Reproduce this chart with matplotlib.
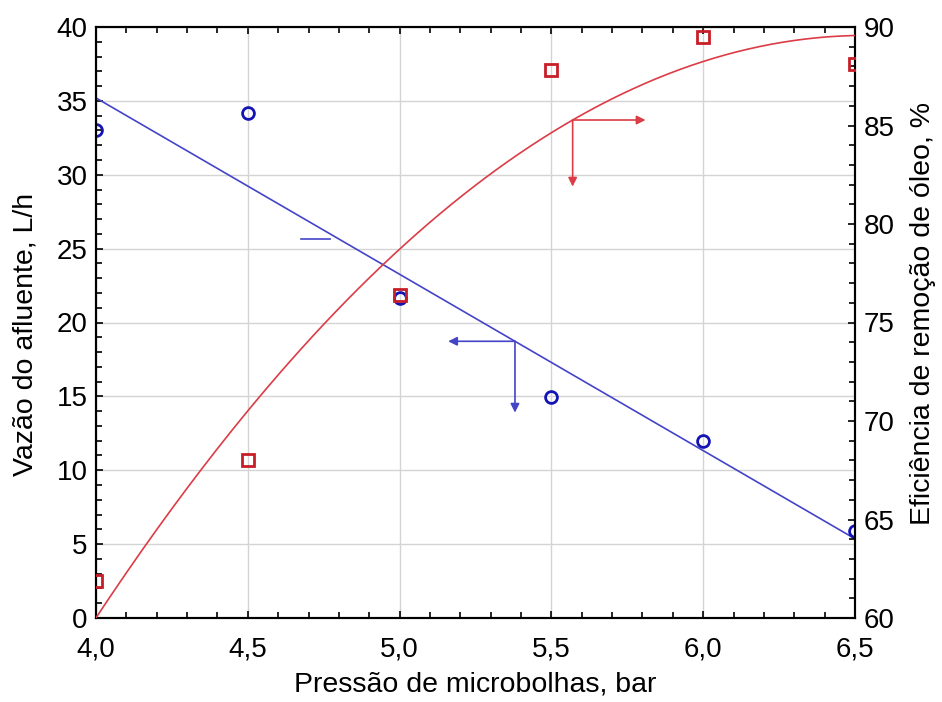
import numpy as np
import matplotlib
matplotlib.use("Agg")
import matplotlib.pyplot as plt
from matplotlib.ticker import MultipleLocator, FixedLocator, FixedFormatter

plt.rcParams['font.family'] = ['Liberation Sans', 'DejaVu Sans']

# ---- data ----
pressure = [4.0, 4.5, 5.0, 5.5, 6.0, 6.5]
flow = [33.0, 34.2, 21.65, 14.95, 11.98, 5.9]          # left axis, L/h
efficiency = [61.9, 68.0, 76.4, 87.8, 89.5, 88.1]      # right axis, %

x_ticks = [4.0, 4.5, 5.0, 5.5, 6.0, 6.5]
x_tick_labels = ["4,0", "4,5", "5,0", "5,5", "6,0", "6,5"]
left_ticks = [0, 5, 10, 15, 20, 25, 30, 35, 40]
right_ticks = [60, 65, 70, 75, 80, 85, 90]

# fitted trend curves (linear for flow, quadratic for efficiency)
blue_fit = np.polyfit(pressure, flow, 1)
red_fit = np.polyfit(pressure, efficiency, 2)
xs = np.linspace(min(pressure), max(pressure), 200)

# arrow anchor positions (x on curve, tip positions)
blue_arrow_x, blue_left_tip, blue_down_tip = 5.38, 5.16, 13.9
red_arrow_x, red_right_tip, red_down_tip = 5.57, 5.81, 81.9

blue_line_c = '#4444c8'
blue_mark_c = '#1414b4'
red_line_c = '#dc3c46'
red_mark_c = '#c81e28'

fig = plt.figure(figsize=(9.42, 7.02), dpi=100)
ax = fig.add_axes([96/942, 84/702, 759/942, 591/702])
ax2 = ax.twinx()

# grid
ax.grid(True, color='#d4d4d4', lw=1.0, zorder=0)
ax.set_axisbelow(True)

ax.plot(xs, np.polyval(blue_fit, xs), color=blue_line_c, lw=1.2, zorder=3)
ax.plot(pressure, flow, 'o', mfc='none', mec=blue_mark_c, mew=2.0, ms=8.5, zorder=4)

ax2.plot(xs, np.polyval(red_fit, xs), color=red_line_c, lw=1.2, zorder=3)
ax2.plot(pressure, efficiency, 's', mfc='none', mec=red_mark_c, mew=2.0, ms=9, zorder=4)

# arrows
by = np.polyval(blue_fit, blue_arrow_x)
ap_b = dict(arrowstyle='-|>', color=blue_line_c, lw=1.2, mutation_scale=13, shrinkA=0, shrinkB=0)
ax.annotate('', xy=(blue_left_tip, by), xytext=(blue_arrow_x, by), arrowprops=ap_b)
ax.annotate('', xy=(blue_arrow_x, blue_down_tip), xytext=(blue_arrow_x, by), arrowprops=ap_b)

ry = np.polyval(red_fit, red_arrow_x)
ap_r = dict(arrowstyle='-|>', color=red_line_c, lw=1.2, mutation_scale=13, shrinkA=0, shrinkB=0)
ax2.annotate('', xy=(red_right_tip, ry), xytext=(red_arrow_x, ry), arrowprops=ap_r)
ax2.annotate('', xy=(red_arrow_x, red_down_tip), xytext=(red_arrow_x, ry), arrowprops=ap_r)

# small stray dash
ax.plot([0.270, 0.308], [0.641, 0.641], color=blue_line_c, lw=1.2, transform=ax.transAxes)

ax.set_xlim(4.0, 6.5)
ax.set_ylim(0, 40)
ax2.set_ylim(60, 90)

ax.xaxis.set_major_locator(FixedLocator(x_ticks))
ax.xaxis.set_major_formatter(FixedFormatter(x_tick_labels))
ax.xaxis.set_minor_locator(MultipleLocator(0.1))
ax.yaxis.set_major_locator(FixedLocator(left_ticks))
ax.yaxis.set_minor_locator(MultipleLocator(1))
ax2.yaxis.set_major_locator(FixedLocator(right_ticks))
ax2.yaxis.set_minor_locator(MultipleLocator(1))

ax.tick_params(axis='x', which='both', direction='in', top=True, labelsize=20, pad=13, width=1.2)
ax.tick_params(axis='y', which='both', direction='in', labelsize=20, pad=6, width=1.2)
ax.tick_params(which='major', length=5)
ax.tick_params(which='minor', length=4)
ax2.tick_params(axis='y', which='both', direction='in', labelsize=20, pad=6, width=1.2)
ax2.tick_params(which='major', length=5)
ax2.tick_params(which='minor', length=4)

for a in (ax, ax2):
    for s in a.spines.values():
        s.set_linewidth(1.5)

lab_size = 20.5
ax.set_xlabel("Pressão de microbolhas, bar", fontsize=lab_size)
ax.set_ylabel("Vazão do afluente, L/h", fontsize=lab_size)
ax2.set_ylabel("Eficiência de remoção de óleo, %", fontsize=lab_size)
ax.xaxis.set_label_coords(0.5, -0.09)
ax.yaxis.set_label_coords(-0.0764, 0.48)
ax2.yaxis.set_label_coords(1.0725, 0.515)

fig.savefig("out.png", dpi=100)
